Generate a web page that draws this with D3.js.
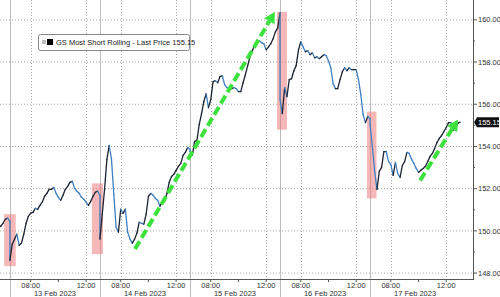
<!DOCTYPE html>
<html>
<head>
<meta charset="utf-8">
<script src="https://cdn.jsdelivr.net/npm/d3@7/dist/d3.min.js"></script>
<style>
  html, body { margin: 0; padding: 0; background: #fff; }
  svg { display: block; font-family: "Liberation Sans", Arial, sans-serif; }
</style>
</head>
<body>
<div id="chart"></div>
<script>
// Trading sessions (06:30 - 13:00, one price every 10 minutes)
const sessions = ['2023-02-10', '2023-02-13', '2023-02-14', '2023-02-15', '2023-02-16', '2023-02-17'];
const dayLabels = ['10 Feb 2023', '13 Feb 2023', '14 Feb 2023', '15 Feb 2023', '16 Feb 2023', '17 Feb 2023'];
const sessionOpen = '06:30';
const sessionClose = '13:00';
const stepMinutes = 10;

// 10 Feb, 12:10 -> 13:00
const feb10Tail = [150.17, 150.22, 150.36, 150.55, 150.60, 150.45];
const feb13 = [148.60, 149.37, 149.61, 149.84, 149.32, 149.42, 149.84, 150.36, 150.69, 150.84,
               150.88, 151.07, 151.02, 151.21, 151.36, 151.64, 151.78, 151.97, 151.97, 152.06,
               151.78, 151.59, 151.45, 151.69, 151.97, 152.11, 152.30, 152.35, 152.02, 151.88,
               151.78, 151.59, 151.50, 151.36, 151.21, 151.40, 151.64, 151.83, 151.88, 151.69];
const feb14 = [149.61, 150.79, 151.97, 153.39, 154.05, 153.39, 151.73, 150.17, 149.94, 151.03,
               150.83, 151.03, 149.94, 149.61, 149.42, 149.61, 149.89, 150.41, 150.36, 150.32,
               150.79, 151.64, 151.78, 151.69, 151.54, 151.45, 151.17, 151.36, 151.40, 151.78,
               152.30, 152.58, 152.68, 152.87, 153.06, 153.20, 153.58, 153.72, 153.95, 153.86];
const feb15 = [153.76, 153.58, 154.24, 154.29, 155.04, 155.56, 156.13, 156.50, 155.84, 156.22,
               157.07, 157.12, 157.02, 157.31, 157.35, 156.93, 156.79, 156.74, 156.74, 156.79,
               156.74, 156.60, 156.60, 157.02, 157.40, 157.83, 158.25, 158.54, 158.77, 158.96,
               159.01, 158.91, 158.87, 158.58, 158.72, 158.87, 159.10, 159.43, 159.62, 160.33];
const feb16 = [156.22, 155.56, 156.79, 156.36, 157.17, 157.21, 157.59, 157.83, 158.58, 158.96,
               158.72, 158.49, 158.54, 158.35, 158.44, 158.20, 158.25, 158.16, 158.25, 158.35,
               158.30, 158.06, 157.73, 156.98, 156.74, 156.74, 157.17, 157.54, 157.73, 157.59,
               157.73, 157.64, 157.64, 157.64, 157.17, 156.46, 155.51, 155.13, 155.42, 155.32];
const feb17 = [155.04, 154.00, 152.82, 151.97, 152.82, 153.01, 153.76, 153.76, 153.29, 153.15,
               152.63, 153.25, 152.72, 152.54, 153.10, 153.29, 153.72, 153.67, 153.39, 153.20,
               152.96, 152.77, 152.87, 152.96, 153.06, 153.29, 153.53, 153.67, 153.91, 154.19,
               154.38, 154.52, 154.71, 154.90, 155.13, 155.13, 154.76, 154.85, 155.09, 155.15];

const lastPrice = 155.15;
const seriesName = 'GS Most Short Rolling - Last Price';

const yTicks = [148, 150, 152, 154, 156, 158, 160];
const yMinorTicks = [149, 151, 153, 155, 157, 159];
const timeTicks = ['08:00', '12:00'];
const timeMinorTicks = ['10:00'];

// Red boxes round the opening moves
const highlights = [
  { from: ['2023-02-10', '12:35'], to: ['2023-02-13', '06:55'], lo: 148.33, hi: 150.79 },
  { from: ['2023-02-13', '12:25'], to: ['2023-02-14', '06:43'], lo: 148.90, hi: 152.25 },
  { from: ['2023-02-15', '12:47'], to: ['2023-02-16', '07:00'], lo: 154.80, hi: 160.38 },
  { from: ['2023-02-16', '12:47'], to: ['2023-02-17', '06:58'], lo: 151.54, hi: 155.65 },
];

// Green dashed trend arrows
const arrows = [
  { from: ['2023-02-14', '09:02'], fromPrice: 149.14, to: ['2023-02-15', '12:38'], toPrice: 160.38 },
  { from: ['2023-02-17', '10:07'], fromPrice: 152.39, to: ['2023-02-17', '12:51'], toPrice: 155.28 },
];

const width = 500, height = 297;
const plotRight = 473, plotBottom = 279;

const minutesOf = hhmm => { const [h, m] = hhmm.split(':').map(Number); return h * 60 + m; };
const sessionLength = minutesOf(sessionClose) - minutesOf(sessionOpen);
// continuous trading-time index: session number * session length + minutes since open
const tIndex = (day, hhmm) => sessions.indexOf(day) * sessionLength + minutesOf(hhmm) - minutesOf(sessionOpen);

// build the price series
const points = [];
const addSession = (day, values, firstMinute) => {
  values.forEach((v, i) => points.push({ t: tIndex(day, sessionOpen) + firstMinute + i * stepMinutes, price: v }));
};
addSession(sessions[0], feb10Tail, sessionLength - (feb10Tail.length - 1) * stepMinutes);
[feb13, feb14, feb15, feb16, feb17].forEach((vals, k) => addSession(sessions[k + 1], vals, 0));

const x = d3.scaleLinear()
  .domain([tIndex(sessions[0], '12:17'), tIndex(sessions[5], sessionClose) + 56])
  .range([0, plotRight]);
const y = d3.scaleLinear().domain([147.72, 160.94]).range([plotBottom, 0]);

const svg = d3.select('#chart').append('svg').attr('width', width).attr('height', height);
svg.append('rect').attr('width', width).attr('height', height).attr('fill', '#fff');

svg.append('clipPath').attr('id', 'plotClip')
  .append('rect').attr('x', 0).attr('y', 0).attr('width', plotRight).attr('height', plotBottom);

const grid = svg.append('g').attr('class', 'grid');

// horizontal dotted grid
grid.selectAll('line.hgrid').data(yTicks).enter().append('line')
  .attr('class', 'hgrid')
  .attr('x1', 0).attr('x2', plotRight)
  .attr('y1', d => y(d)).attr('y2', d => y(d))
  .attr('stroke', '#a8a8a8').attr('stroke-width', 1).attr('stroke-dasharray', '1,2');

// vertical dotted grid at 08:00 / 12:00
const timeGrid = [];
sessions.slice(1).forEach(day => timeTicks.forEach(tt => timeGrid.push({ day, tt, t: tIndex(day, tt) })));
grid.selectAll('line.vgrid').data(timeGrid).enter().append('line')
  .attr('class', 'vgrid')
  .attr('x1', d => Math.round(x(d.t)) + 0.5).attr('x2', d => Math.round(x(d.t)) + 0.5)
  .attr('y1', 0).attr('y2', plotBottom)
  .attr('stroke', '#a8a8a8').attr('stroke-width', 1).attr('stroke-dasharray', '1,2');

// session separators (run through the date labels)
const sessionStarts = sessions.slice(1).map(day => tIndex(day, sessionOpen));
grid.selectAll('line.sep').data(sessionStarts).enter().append('line')
  .attr('class', 'sep')
  .attr('x1', d => Math.round(x(d)) + 0.5).attr('x2', d => Math.round(x(d)) + 0.5)
  .attr('y1', 0).attr('y2', height)
  .attr('stroke', '#bdbdbd').attr('stroke-width', 1);

const plot = svg.append('g').attr('clip-path', 'url(#plotClip)');

// highlight boxes
plot.selectAll('rect.hl').data(highlights).enter().append('rect')
  .attr('class', 'hl')
  .attr('x', d => x(tIndex(...d.from)))
  .attr('width', d => x(tIndex(...d.to)) - x(tIndex(...d.from)))
  .attr('y', d => y(d.hi))
  .attr('height', d => y(d.lo) - y(d.hi))
  .attr('fill', 'rgb(236,112,112)').attr('opacity', 0.5);

// price line, rising moves dark, falling moves blue
const segments = d3.pairs(points);
plot.selectAll('line.price').data(segments).enter().append('line')
  .attr('class', 'price')
  .attr('x1', d => x(d[0].t)).attr('y1', d => y(d[0].price))
  .attr('x2', d => x(d[1].t)).attr('y2', d => y(d[1].price))
  .attr('stroke', d => d[1].price >= d[0].price ? '#1c2330' : '#3f80c2')
  .attr('stroke-width', 1.3).attr('stroke-linecap', 'round');

// trend arrows
const arrowColor = '#3ce23c';
arrows.forEach(a => {
  const x1 = x(tIndex(...a.from)), y1 = y(a.fromPrice);
  const x2 = x(tIndex(...a.to)), y2 = y(a.toPrice);
  const ang = Math.atan2(y2 - y1, x2 - x1);
  const headLen = 11, headHalf = 6;
  const bx = x2 - headLen * Math.cos(ang), by = y2 - headLen * Math.sin(ang);
  plot.append('line')
    .attr('x1', x1).attr('y1', y1).attr('x2', bx).attr('y2', by)
    .attr('stroke', arrowColor).attr('stroke-width', 4).attr('stroke-dasharray', '9,4');
  const px = -Math.sin(ang), py = Math.cos(ang);
  plot.append('path')
    .attr('d', `M${x2},${y2}L${bx + px * headHalf},${by + py * headHalf}L${bx - px * headHalf},${by - py * headHalf}Z`)
    .attr('fill', arrowColor);
});

// right axis
const yAxis = svg.append('g').attr('class', 'y-axis');
yAxis.append('line')
  .attr('x1', plotRight + 0.5).attr('x2', plotRight + 0.5).attr('y1', 0).attr('y2', plotBottom)
  .attr('stroke', '#555');
yAxis.selectAll('line.major').data(yTicks).enter().append('line')
  .attr('x1', plotRight).attr('x2', plotRight + 4)
  .attr('y1', d => y(d)).attr('y2', d => y(d))
  .attr('stroke', '#555');
yAxis.selectAll('line.minor').data(yMinorTicks).enter().append('line')
  .attr('x1', plotRight).attr('x2', plotRight + 2)
  .attr('y1', d => y(d)).attr('y2', d => y(d))
  .attr('stroke', '#555');
yAxis.selectAll('text').data(yTicks).enter().append('text')
  .attr('x', plotRight + 5).attr('y', d => y(d)).attr('dy', '0.35em')
  .attr('font-size', 7.5).attr('fill', '#333')
  .text(d => d.toFixed(2));

// bottom axis
const xAxis = svg.append('g').attr('class', 'x-axis');
xAxis.append('line')
  .attr('x1', 0).attr('x2', plotRight + 1).attr('y1', plotBottom + 0.5).attr('y2', plotBottom + 0.5)
  .attr('stroke', '#555');
const minorX = [];
sessions.slice(1).forEach(day => timeMinorTicks.concat(timeTicks).forEach(tt => minorX.push(tIndex(day, tt))));
xAxis.selectAll('line.tick').data(minorX).enter().append('line')
  .attr('x1', d => x(d)).attr('x2', d => x(d))
  .attr('y1', plotBottom).attr('y2', plotBottom + 3)
  .attr('stroke', '#555');
xAxis.selectAll('text.time').data(timeGrid).enter().append('text')
  .attr('class', 'time')
  .attr('x', d => x(d.t)).attr('y', plotBottom + 9)
  .attr('text-anchor', 'middle').attr('font-size', 7.5).attr('fill', '#333')
  .text(d => d.tt);
xAxis.selectAll('text.day').data(sessions.slice(1)).enter().append('text')
  .attr('class', 'day')
  .attr('x', d => (x(tIndex(d, sessionOpen)) + x(tIndex(d, sessionClose))) / 2)
  .attr('y', plotBottom + 17)
  .attr('text-anchor', 'middle').attr('font-size', 7.5).attr('fill', '#333')
  .text((d, i) => dayLabels[i + 1]);

// last price tag
const tagY = y(lastPrice);
svg.append('path')
  .attr('d', `M${plotRight + 1},${tagY}L${plotRight + 4},${tagY - 5}L${width - 1},${tagY - 5}L${width - 1},${tagY + 5}L${plotRight + 4},${tagY + 5}Z`)
  .attr('fill', '#111');
svg.append('text')
  .attr('x', plotRight + 5).attr('y', tagY).attr('dy', '0.35em')
  .attr('font-size', 7.5).attr('fill', '#fff')
  .text(lastPrice.toFixed(2));

// legend
const legend = svg.append('g').attr('transform', 'translate(38,34)');
legend.append('rect')
  .attr('x', 0.5).attr('y', 0.5).attr('width', 151).attr('height', 16).attr('rx', 2)
  .attr('fill', '#fff').attr('stroke', '#888');
legend.append('rect').attr('x', 4).attr('y', 6).attr('width', 4).attr('height', 4).attr('fill', '#bbb');
legend.append('rect').attr('x', 9).attr('y', 5).attr('width', 6).attr('height', 6).attr('fill', '#000');
legend.append('text')
  .attr('x', 18).attr('y', 8.5).attr('dy', '0.35em')
  .attr('font-size', 7.5).attr('fill', '#222')
  .text(`${seriesName} ${lastPrice.toFixed(2)}`);
</script>
</body>
</html>
